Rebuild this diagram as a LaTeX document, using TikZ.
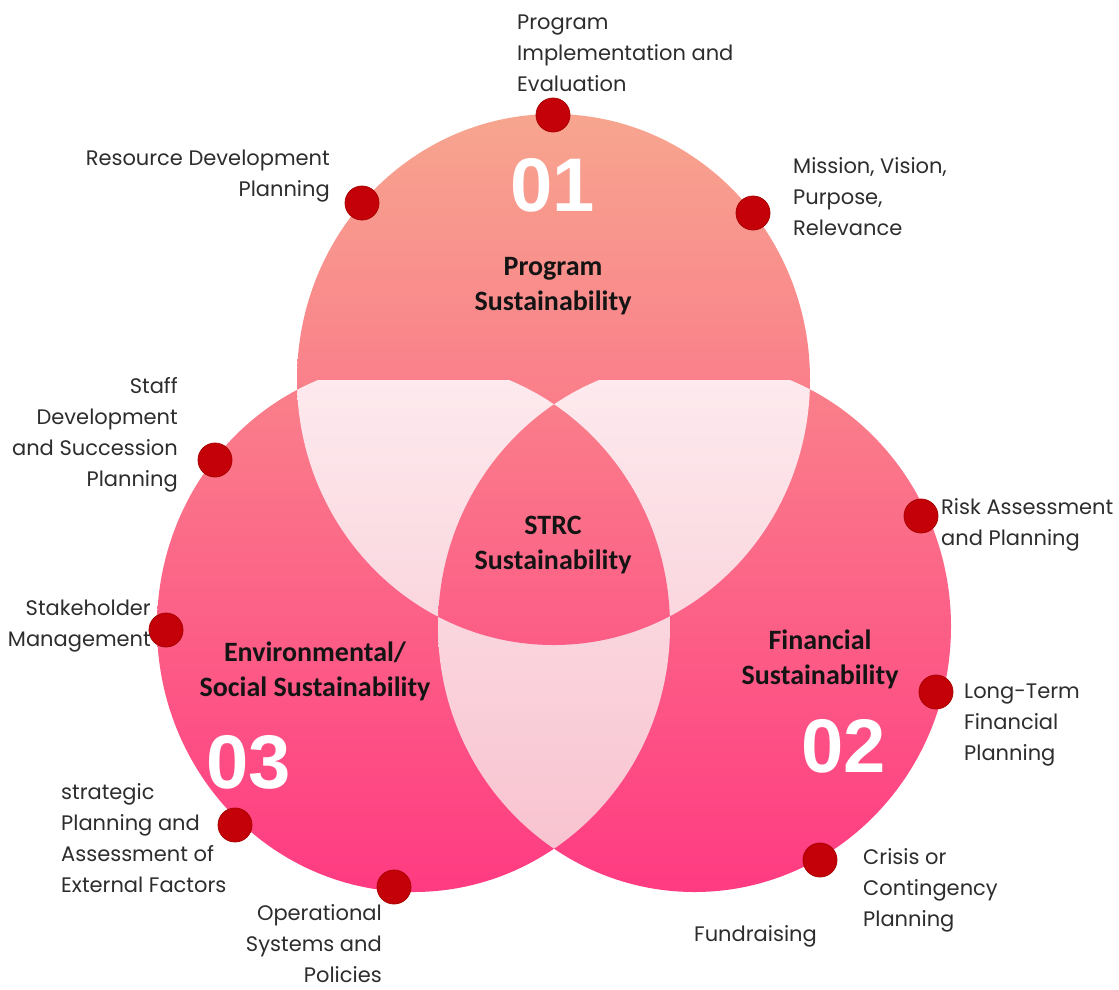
\documentclass[tikz,border=0pt]{standalone}
\usepackage{fontspec}
\setmainfont{Poppins}
\newfontfamily\titlefont{Carlito}
\newfontfamily\numfont{Liberation Sans}
\definecolor{gtop}{RGB}{247,166,143}
\definecolor{gmid}{RGB}{255,112,140}
\definecolor{gbot}{RGB}{255,58,130}
\definecolor{ptop}{RGB}{253,234,238}
\definecolor{pbot}{RGB}{248,194,207}
\definecolor{dotred}{RGB}{196,0,8}
\definecolor{dotedge}{RGB}{170,0,0}
\definecolor{labelgray}{RGB}{45,45,45}
\definecolor{titleblack}{RGB}{20,20,20}
\newcommand\fl{\rule{0pt}{16pt}}
\begin{document}
\begin{tikzpicture}[x=1pt,y=-1pt,
  lbl/.style={font=\fontsize{21}{31}\selectfont, text=labelgray, inner sep=0pt},
  ttl/.style={font=\titlefont\bfseries\fontsize{28}{35}\selectfont, text=titleblack, align=center, inner sep=0pt},
  num/.style={font=\numfont\bfseries\fontsize{76}{76}\selectfont, text=white, inner sep=0pt},
  dotnode/.style={circle, fill=dotred, draw=dotedge, line width=0.8pt, minimum size=34pt, inner sep=0pt},
  maingrad/.style={top color=gtop, middle color=gmid, bottom color=gbot},
  palegrad/.style={top color=ptop, bottom color=pbot}]
\useasboundingbox (0,0) rectangle (1119,989);
% single circles
\begin{scope}
  \clip (553.5,379.5) ellipse [x radius=256.5pt, y radius=265.5pt];
  \shade[maingrad] (0,110) rectangle (1119,895);
\end{scope}
\begin{scope}
  \clip (413.5,626.5) ellipse [x radius=256.5pt, y radius=265.5pt];
  \shade[maingrad] (0,110) rectangle (1119,895);
\end{scope}
\begin{scope}
  \clip (694.5,626.5) ellipse [x radius=256.5pt, y radius=265.5pt];
  \shade[maingrad] (0,110) rectangle (1119,895);
\end{scope}
% pairwise overlaps
\begin{scope}
  \clip (553.5,379.5) ellipse [x radius=256.5pt, y radius=265.5pt];
  \clip (413.5,626.5) ellipse [x radius=256.5pt, y radius=265.5pt];
  \shade[palegrad] (0,380) rectangle (1119,860);
\end{scope}
\begin{scope}
  \clip (553.5,379.5) ellipse [x radius=256.5pt, y radius=265.5pt];
  \clip (694.5,626.5) ellipse [x radius=256.5pt, y radius=265.5pt];
  \shade[palegrad] (0,380) rectangle (1119,860);
\end{scope}
\begin{scope}
  \clip (413.5,626.5) ellipse [x radius=256.5pt, y radius=265.5pt];
  \clip (694.5,626.5) ellipse [x radius=256.5pt, y radius=265.5pt];
  \shade[palegrad] (0,380) rectangle (1119,860);
\end{scope}
% triple overlap
\begin{scope}
  \clip (553.5,379.5) ellipse [x radius=256.5pt, y radius=265.5pt];
  \clip (413.5,626.5) ellipse [x radius=256.5pt, y radius=265.5pt];
  \clip (694.5,626.5) ellipse [x radius=256.5pt, y radius=265.5pt];
  \shade[maingrad] (0,110) rectangle (1119,895);
\end{scope}
% numbers
\node[num] (n01) at (553,185) {01};
\node[num] (n02) at (844,746) {02};
\node[num] (n03) at (249,762) {03};
% titles
\node[ttl] (tprog) at (553,286) {Program\\Sustainability};
\node[ttl] (tstrc) at (553,545) {STRC\\Sustainability};
\node[ttl] (tenv) at (315,671) {Environmental/\\Social Sustainability};
\node[ttl] (tfin) at (820,659) {Financial\\Sustainability};
% dots
\node[dotnode] (d1) at (553,115) {};
\node[dotnode] (d2) at (362,203) {};
\node[dotnode] (d3) at (753,213) {};
\node[dotnode] (d4) at (215,460) {};
\node[dotnode] (d5) at (166,630) {};
\node[dotnode] (d6) at (235,825) {};
\node[dotnode] (d7) at (394,887) {};
\node[dotnode] (d8) at (921,516) {};
\node[dotnode] (d9) at (936,692) {};
\node[dotnode] (d10) at (820,860) {};
% labels
\node[lbl, anchor=north west, align=left] (l1) at (517,13) {\fl Program\\Implementation and\\Evaluation};
\node[lbl, anchor=north east, align=right] (l2) at (330,149) {\fl Resource Development\\Planning};
\node[lbl, anchor=north west, align=left] (l3) at (793,157) {\fl Mission, Vision,\\Purpose,\\Relevance};
\node[lbl, anchor=north east, align=right] (l4) at (178,377) {\fl Staff\\Development\\and Succession\\Planning};
\node[lbl, anchor=north east, align=right] (l5) at (151,599) {\fl Stakeholder\\Management};
\node[lbl, anchor=north west, align=left] (l6) at (61,783) {\fl strategic\\Planning and\\Assessment of\\External Factors};
\node[lbl, anchor=north east, align=right] (l7) at (382,904) {\fl Operational\\Systems and\\Policies};
\node[lbl, anchor=north west, align=left] (l8) at (941,498) {\fl Risk Assessment\\and Planning};
\node[lbl, anchor=north west, align=left] (l9) at (964,682) {\fl Long-Term\\Financial\\Planning};
\node[lbl, anchor=north west, align=left] (l10) at (863,848) {\fl Crisis or\\Contingency\\Planning};
\node[lbl, anchor=north east, align=right] (l11) at (817,925) {\fl Fundraising};
\end{tikzpicture}
\end{document}
